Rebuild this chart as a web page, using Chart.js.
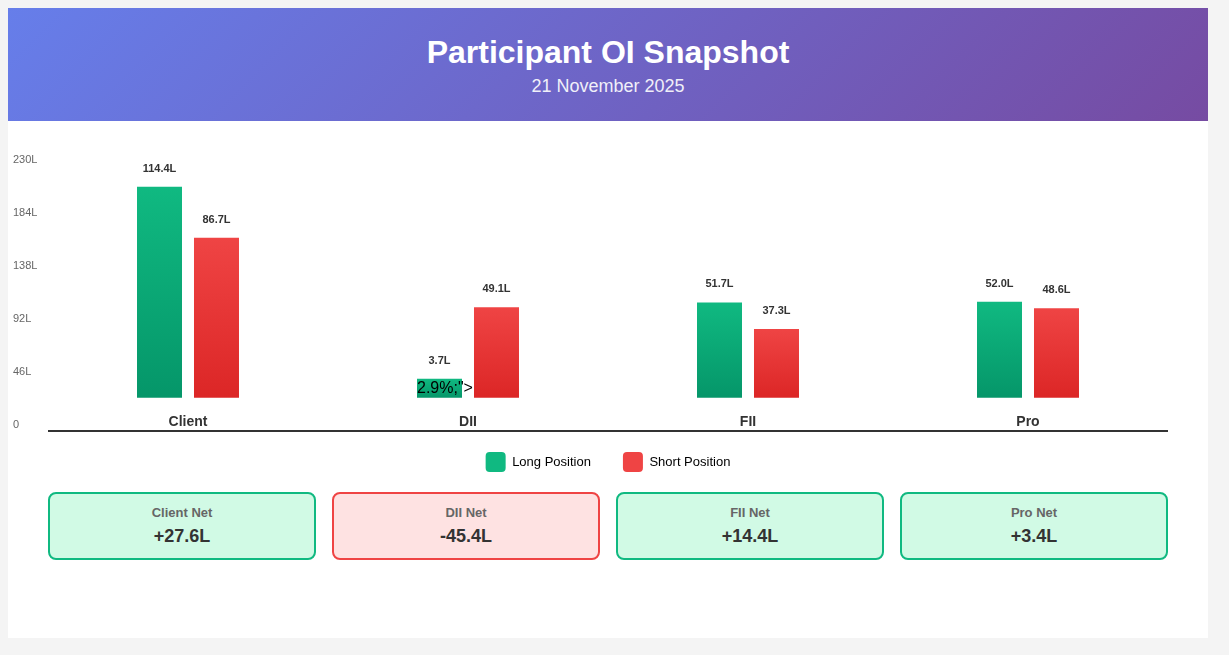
<!DOCTYPE html>
<html>
<head>
<meta charset="utf-8">
<title>Participant OI Snapshot</title>
<script src="https://cdn.jsdelivr.net/npm/chart.js@4.4.1/dist/chart.umd.min.js"></script>
<style>
  html, body { margin: 0; padding: 0; }
  body {
    background: #f4f4f4;
    font-family: Arial, "Liberation Sans", sans-serif;
    width: 1229px;
    height: 655px;
    overflow: hidden;
  }
  .card { position: absolute; left: 8px; top: 8px; width: 1200px; height: 630px; background: #fff; }
  .header {
    position: absolute; left: 0; top: 0; width: 1200px; height: 113px;
    background: linear-gradient(135deg, #667eea 0%, #764ba2 100%);
    color: #fff; text-align: center;
  }
  .header h1 { position: absolute; left: 0; right: 0; top: 25px; margin: 0; font-size: 32px; line-height: 38px; font-weight: bold; }
  .header .date { position: absolute; left: 0; right: 0; top: 67px; font-size: 18px; line-height: 22px; opacity: 0.9; }
  .chart-box { position: absolute; left: 0; top: 113px; width: 1200px; height: 361px; }
  .nets { position: absolute; left: 40px; top: 484px; width: 1120px; display: flex; gap: 16px; }
  .net {
    flex: 1; box-sizing: border-box; height: 68px; border: 2px solid; border-radius: 8px;
    text-align: center; padding-top: 11px;
  }
  .net.pos { background: #d1fae5; border-color: #10b981; }
  .net.neg { background: #fee2e2; border-color: #ef4444; }
  .net-label { font-size: 13px; line-height: 16px; font-weight: bold; color: #666; }
  .net-value { font-size: 18px; line-height: 22px; font-weight: bold; color: #333; margin-top: 4px; }
</style>
</head>
<body>
<div class="card">
  <div class="header">
    <h1>Participant OI Snapshot</h1>
    <div class="date">21 November 2025</div>
  </div>
  <div class="chart-box"><canvas id="oiChart"></canvas></div>
  <div class="nets" id="nets"></div>
</div>

<script>
// data (lakh contracts)
const participants = ['Client', 'DII', 'FII', 'Pro'];
const longPositions = [114.4, 3.7, 51.7, 52.0];
const shortPositions = [86.7, 49.1, 37.3, 48.6];
const netPositions = [27.6, -45.4, 14.4, 3.4];
const axisTicks = [0, 46, 92, 138, 184, 230];
const seriesNames = ['Long Position', 'Short Position'];
const strayText = '2.9%;">'; // leftover markup shown on the DII long bar

const GREEN = ['#10b981', '#059669'];
const RED = ['#ef4444', '#dc2626'];
const MIN_BAR = 19;
const FONT = 'Arial, "Liberation Sans", sans-serif';

Chart.defaults.font.family = FONT;

// vertical gradient per bar, from its top down to the baseline
function barFill(colors) {
    return (c) => {
        const chart = c.chart;
        if (c.type !== 'data' || !chart.chartArea) return colors[0];
        const y = chart.scales.y;
        const base = y.getPixelForValue(0);
        const top = Math.min(y.getPixelForValue(c.raw), base - MIN_BAR);
        const g = chart.ctx.createLinearGradient(0, top, 0, base);
        g.addColorStop(0, colors[0]);
        g.addColorStop(1, colors[1]);
        return g;
    };
}

const barDecor = {
    id: 'barDecor',
    afterDatasetsDraw(chart) {
        const ctx = chart.ctx;
        ctx.save();
        ctx.font = 'bold 11px ' + FONT;
        ctx.fillStyle = '#333';
        ctx.textAlign = 'center';
        ctx.textBaseline = 'middle';
        chart.data.datasets.forEach((ds, i) => {
            chart.getDatasetMeta(i).data.forEach((bar, j) => {
                ctx.fillText(ds.data[j].toFixed(1) + 'L', bar.x, bar.y - 18);
            });
        });

        const dii = chart.getDatasetMeta(0).data[1];
        ctx.font = '16px ' + FONT;
        ctx.fillStyle = '#000';
        ctx.textAlign = 'left';
        ctx.textBaseline = 'alphabetic';
        ctx.fillText(strayText, dii.x - dii.width / 2, dii.base - 4.5);
        ctx.restore();
    },
    afterDraw(chart) {
        // baseline rule under the category names
        const { ctx, chartArea, scales } = chart;
        const y = scales.x.top + 11;
        ctx.save();
        ctx.strokeStyle = '#333';
        ctx.lineWidth = 2;
        ctx.beginPath();
        ctx.moveTo(chartArea.left, y);
        ctx.lineTo(chartArea.right, y);
        ctx.stroke();
        ctx.restore();
    }
};

new Chart(document.getElementById('oiChart'), {
    type: 'bar',
    data: {
        labels: participants,
        datasets: [{
            label: seriesNames[0],
            data: longPositions,
            backgroundColor: barFill(GREEN),
            minBarLength: MIN_BAR,
            categoryPercentage: 0.4071,
            barPercentage: 0.7895
        }, {
            label: seriesNames[1],
            data: shortPositions,
            backgroundColor: barFill(RED),
            categoryPercentage: 0.4071,
            barPercentage: 0.7895
        }]
    },
    options: {
        responsive: true,
        maintainAspectRatio: false,
        animation: false,
        events: [],
        layout: { padding: { top: 19, left: 5, right: 40, bottom: 0 } },
        scales: {
            x: {
                grid: { display: false, drawTicks: false },
                border: { display: false },
                ticks: { color: '#333', font: { size: 14, weight: 'bold' }, mirror: true, padding: -10.8 },
                afterFit(s) { s.height = 0; }
            },
            y: { display: false, min: -12.0, max: 139.7 },
            y2: {
                position: 'left',
                min: 4.6,
                max: 247.1,
                grid: { display: false, drawTicks: false },
                border: { display: false },
                afterBuildTicks(s) { s.ticks = axisTicks.map(v => ({ value: v })); },
                ticks: {
                    color: '#666',
                    font: { size: 11 },
                    crossAlign: 'far',
                    callback: v => (v === 0 ? '0' : v + 'L')
                },
                afterFit(s) { s.width = 35; }
            }
        },
        plugins: {
            tooltip: { enabled: false },
            legend: {
                position: 'bottom',
                fullSize: false,
                labels: {
                    boxWidth: 20,
                    boxHeight: 20,
                    padding: 32,
                    color: '#333',
                    font: { size: 13 },
                    useBorderRadius: true,
                    borderRadius: 4,
                    generateLabels: () => [GREEN, RED].map((c, i) => ({
                        text: seriesNames[i],
                        fillStyle: c[0],
                        strokeStyle: c[0],
                        lineWidth: 0,
                        borderRadius: 4,
                        datasetIndex: i,
                        hidden: false
                    }))
                }
            }
        }
    },
    plugins: [barDecor]
});

// net position cards
const netRow = document.getElementById('nets');
participants.forEach((p, i) => {
    const v = netPositions[i];
    const el = document.createElement('div');
    el.className = 'net ' + (v >= 0 ? 'pos' : 'neg');
    el.innerHTML = '<div class="net-label">' + p + ' Net</div>' +
        '<div class="net-value">' + (v >= 0 ? '+' : '') + v.toFixed(1) + 'L</div>';
    netRow.appendChild(el);
});
</script>
</body>
</html>
